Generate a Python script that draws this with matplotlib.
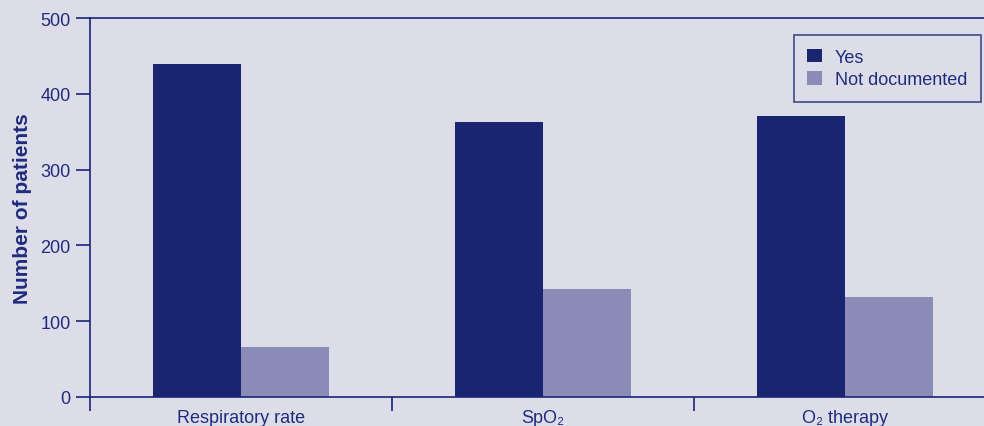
import matplotlib
matplotlib.use("Agg")
import matplotlib.pyplot as plt
import numpy as np

categories = ["Respiratory rate", "SpO₂", "O₂ therapy"]
yes_vals = [439, 363, 371]
not_doc_vals = [66, 142, 132]

bg = "#dddde9"
navy = "#1a2572"
light = "#8b8bb8"
txt = "#1f2c7c"

plt.rcParams["font.family"] = ["Liberation Sans", "DejaVu Sans"]

fs = 13

fig = plt.figure(figsize=(9.84, 4.27), dpi=100, facecolor=bg)
ax = fig.add_axes([90 / 984, 1 - 398 / 427, 906 / 984, 379 / 427])
ax.set_facecolor(bg)

x = np.arange(len(categories))
w = 0.29
ax.bar(x - w / 2, yes_vals, w, color=navy, label="Yes")
ax.bar(x + w / 2, not_doc_vals, w, color=light, label="Not documented")

ax.set_xlim(-0.5, 2.5)
ax.set_ylim(0, 500)
ax.set_yticks(range(0, 501, 100))
ax.set_xticks([-0.5, 0.5, 1.5, 2.5])
ax.set_xticklabels([])
ax.set_xticks(x, minor=True)
ax.set_xticklabels(categories, minor=True)
ax.tick_params(axis="x", which="minor", length=0, pad=8.5, labelsize=fs, labelcolor=txt)
ax.tick_params(axis="x", which="major", length=10, width=1.2, color=navy, direction="out")
ax.tick_params(axis="y", length=10, width=1.2, color=navy, labelsize=fs,
               labelcolor=txt, pad=4)

for s in ["left", "bottom", "top"]:
    ax.spines[s].set_color(navy)
    ax.spines[s].set_linewidth(1.2)
ax.spines["right"].set_visible(False)

ax.set_ylabel("Number of patients", fontsize=15, fontweight="bold", color=txt, labelpad=6)

leg = ax.legend(loc="upper right", bbox_to_anchor=(981 / 984, 1 - 36 / 427),
                bbox_transform=fig.transFigure, fontsize=fs, frameon=True,
                fancybox=False, handlelength=0.8, handleheight=0.8,
                handletextpad=0.75, borderpad=0.75, labelspacing=0.3,
                borderaxespad=0)
leg.get_frame().set_edgecolor(navy)
leg.get_frame().set_facecolor(bg)
leg.get_frame().set_linewidth(1.2)
for t in leg.get_texts():
    t.set_color(txt)

fig.savefig("out.png", dpi=100, facecolor=bg)
